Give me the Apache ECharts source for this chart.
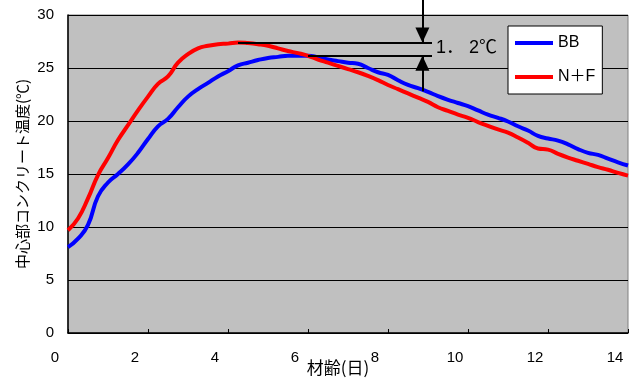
<!DOCTYPE html>
<html>
<head>
<meta charset="utf-8">
<script src="https://cdn.jsdelivr.net/npm/echarts@6/dist/echarts.min.js"></script>
<style>
  html, body { margin: 0; padding: 0; background: #fff; }
  #chart { width: 631px; height: 382px; }
</style>
</head>
<body>
<div id="chart"></div>
<script>
// --- Data ---
const days = [0, 0.25, 0.5, 0.75, 1, 1.25, 1.5, 1.75, 2, 2.25, 2.5, 2.75, 3, 3.25, 3.5, 3.75,
    4, 4.25, 4.5, 4.75, 5, 5.25, 5.5, 5.75, 6, 6.25, 6.5, 6.75, 7, 7.25, 7.5, 7.75,
    8, 8.25, 8.5, 8.75, 9, 9.25, 9.5, 9.75, 10, 10.25, 10.5, 10.75, 11, 11.25, 11.5, 11.75,
    12, 12.25, 12.5, 12.75, 13, 13.25, 13.5, 13.75, 14];

const tempBB = [8.1, 8.9, 10.2, 12.9, 14.2, 15.0, 15.9, 17.0, 18.3, 19.5, 20.2, 21.3, 22.3, 23.0, 23.6, 24.2,
    24.7, 25.25, 25.5, 25.75, 25.95, 26.05, 26.15, 26.15, 26.15, 26.0, 25.8, 25.65, 25.5, 25.4, 25.0, 24.6,
    24.35, 23.85, 23.4, 23.1, 22.75, 22.35, 22.0, 21.7, 21.4, 21.0, 20.6, 20.3, 19.95, 19.5, 19.1, 18.6,
    18.35, 18.15, 17.8, 17.35, 17.0, 16.8, 16.45, 16.1, 15.8];

const tempNF = [9.7, 10.8, 12.7, 14.9, 16.5, 18.2, 19.6, 21.0, 22.3, 23.5, 24.2, 25.5, 26.3, 26.85, 27.1, 27.25,
    27.3, 27.4, 27.35, 27.25, 27.1, 26.85, 26.6, 26.4, 26.15, 25.8, 25.5, 25.2, 24.9, 24.6, 24.25, 23.85,
    23.4, 23.0, 22.6, 22.2, 21.8, 21.3, 20.95, 20.6, 20.3, 19.9, 19.55, 19.2, 18.9, 18.45, 17.95, 17.4,
    17.3, 16.9, 16.55, 16.25, 15.95, 15.65, 15.4, 15.1, 14.85];

const seriesNames = ['BB', 'N＋F'];
const xTicks = { min: 0, max: 14, interval: 2 };
const yTicks = { min: 0, max: 30, interval: 5 };

// peak difference annotation (1.2 ℃)
const peakNF = [4.25, 27.4];
const peakBB = [6.0, 26.15];
const arrowX = 8.86;
const annoEndX = 9.1;
const lowArrowStart = 22.8;
const diffLabel = '1． 2℃';

const chart = echarts.init(document.getElementById('chart'));

const zip = (xs, ys) => xs.map((x, i) => [x, ys[i]]);
const black = '#000';
const latin = '"Liberation Sans", Arial, "Noto Sans CJK JP", sans-serif';
const cjk = '"Noto Sans CJK JP", sans-serif';
const tickFont = { color: black, fontSize: 15, fontFamily: latin };

function annotationLines(topX) {
    return [
        [{ coord: peakNF }, { coord: [annoEndX, peakNF[1]] }],
        [{ coord: peakBB }, { coord: [annoEndX, peakBB[1]] }],
        // arrow from the top edge of the chart down onto the N+F peak line
        [{ x: topX, y: 0 }, { coord: [arrowX, peakNF[1]], symbol: 'triangle', symbolRotate: 180, symbolOffset: [0, '50%'] }],
        // arrow from below up onto the BB peak line
        [{ coord: [arrowX, lowArrowStart] }, { coord: [arrowX, peakBB[1]], symbol: 'triangle', symbolRotate: 0, symbolOffset: [0, '50%'] }]
    ];
}

const option = {
    backgroundColor: '#fff',
    animation: false,
    grid: {
        left: 68, top: 15, right: 3, bottom: 49,
        outerBoundsMode: 'none', containLabel: false,
        show: true, backgroundColor: '#c0c0c0', borderColor: '#808080', borderWidth: 1
    },
    legend: {
        orient: 'vertical', left: 508, top: 26,
        backgroundColor: '#fff', borderColor: black, borderWidth: 1,
        padding: [9, 7, 9, 7], itemGap: 18, itemWidth: 38, itemHeight: 4,
        icon: 'rect',
        textStyle: { color: black, fontSize: 16, fontFamily: latin },
        data: seriesNames
    },
    xAxis: {
        type: 'value', min: xTicks.min, max: xTicks.max, interval: xTicks.interval,
        name: '材齢(日)', nameLocation: 'middle', nameGap: 26, nameMoveOverlap: false,
        nameTextStyle: { color: black, fontSize: 17, fontFamily: cjk, padding: [0, 20, 0, 0] },
        axisLine: { lineStyle: { color: black, width: 1.5 } },
        axisTick: { inside: true, length: 4, lineStyle: { color: black } },
        axisLabel: Object.assign({ margin: 17, padding: [0, 26, 0, 0] }, tickFont),
        splitLine: { show: false }
    },
    yAxis: {
        type: 'value', min: yTicks.min, max: yTicks.max, interval: yTicks.interval,
        name: '中心部コンクリート温度(℃)', nameLocation: 'middle', nameRotate: 90, nameGap: 38,
        nameMoveOverlap: false,
        nameTextStyle: { color: black, fontSize: 15, fontFamily: cjk },
        axisLine: { show: true, lineStyle: { color: black, width: 1.5 } },
        axisTick: { show: false },
        axisLabel: Object.assign({ margin: 14 }, tickFont),
        splitLine: { lineStyle: { color: black, width: 1 } }
    },
    series: [
        {
            name: 'annotation', type: 'line', data: [], z: 1, clip: false, silent: true,
            markLine: {
                silent: true, animation: false,
                label: { show: false },
                lineStyle: { color: black, width: 2, type: 'solid' },
                symbol: ['none', 'none'],
                symbolSize: [14, 15],
                data: annotationLines(0)
            }
        },
        {
            name: seriesNames[0], type: 'line', data: zip(days, tempBB), z: 3,
            symbol: 'none', smooth: true, color: '#0000ff',
            lineStyle: { color: '#0000ff', width: 4 }
        },
        {
            name: seriesNames[1], type: 'line', data: zip(days, tempNF), z: 4,
            symbol: 'none', smooth: true, color: '#ff0000',
            lineStyle: { color: '#ff0000', width: 4 }
        }
    ],
    graphic: [
        {
            type: 'text', left: 436, top: 39, z: 10,
            style: { text: diffLabel, fill: black, fontSize: 18, fontFamily: latin }
        }
    ]
};

chart.setOption(option);

// place the top arrow's start in pixels now that the scale is known
const topX = chart.convertToPixel({ gridIndex: 0 }, [arrowX, 0])[0];
chart.setOption({ series: [{ name: 'annotation', markLine: { data: annotationLines(topX) } }] });
</script>
</body>
</html>
